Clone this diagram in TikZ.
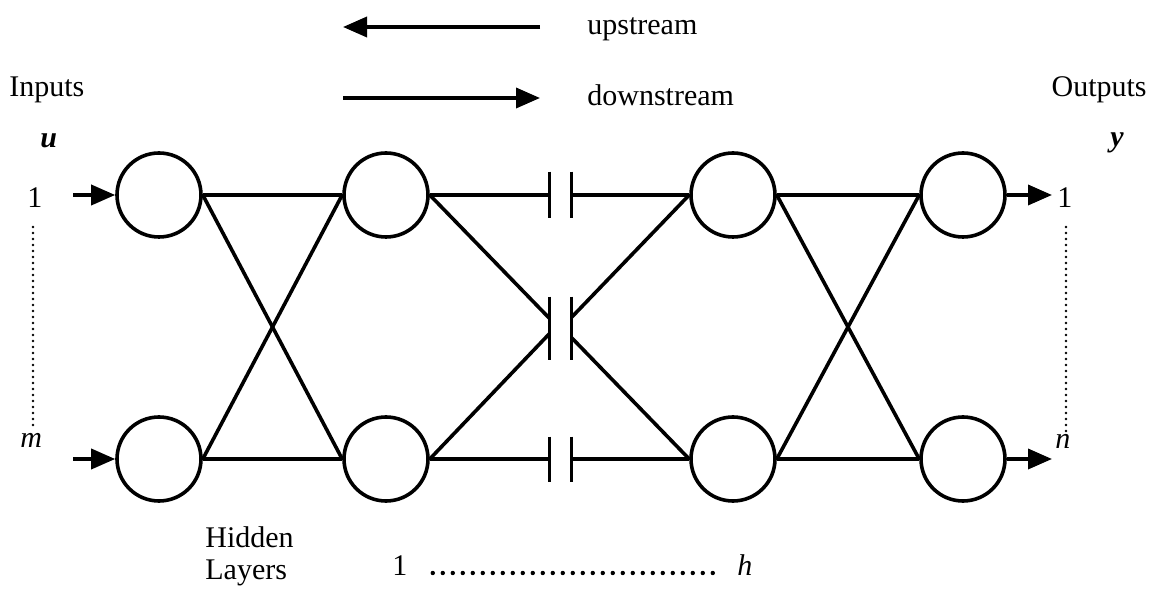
\documentclass[tikz,border=0pt]{standalone}
\usepackage{fontspec}
\setmainfont{Liberation Serif}
\usetikzlibrary{arrows.meta,positioning,calc}
\tikzset{
  neuron/.style={circle, draw, line width=1.8pt, minimum size=42pt, inner sep=0pt},
  link/.style={line width=1.8pt},
  flow/.style={-{Triangle[length=12pt, width=10pt]}, line width=1.8pt},
  capac/.style={inner sep=0pt, minimum width=10.5pt},
  lbl/.style={font=\fontsize{15}{18}\selectfont, inner sep=0pt},
  var/.style={lbl, font=\fontsize{15}{18}\selectfont\bfseries\itshape},
  idx/.style={lbl, font=\fontsize{15}{18}\selectfont\itshape},
  dotrule/.style={line width=1.4pt, dash pattern=on 0pt off 3pt, line cap=round},
  dotrow/.style={line width=2.2pt, dash pattern=on 0pt off 5pt, line cap=round},
}

\begin{document}
\begin{tikzpicture}[x=0.5pt, y=-0.5pt]
  \useasboundingbox (0,0) rectangle (1152,598);
  % direction legend
  \coordinate (upR) at (540,27);
  \coordinate (upL) at (343,27);
  \coordinate (dnL) at (343,98);
  \coordinate (dnR) at (540,98);
  \draw[flow] (upR) -- (upL);
  \draw[flow] (dnL) -- (dnR);
  \node[lbl, anchor=base west] (upTxt) at (587,35) {upstream};
  \node[lbl, anchor=base west] (dnTxt) at (587,106) {downstream};
  % side labels
  \node[lbl, anchor=base west] (inTxt) at (9,97) {Inputs};
  \node[lbl, anchor=base east] (outTxt) at (1147,97) {Outputs};
  \node[var, anchor=base west] (uVar) at (40,148) {u};
  \node[var, anchor=base west] (yVar) at (1110,147) {y};
  % neurons
  \node[neuron] (i1) at (159,195) {};
  \node[neuron] (i2) at (159,459) {};
  \node[neuron] (ha1) at (386,195) {};
  \node[neuron] (ha2) at (386,459) {};
  \node[neuron] (hb1) at (733,195) {};
  \node[neuron] (hb2) at (733,459) {};
  \node[neuron] (o1) at (963,195) {};
  \node[neuron] (o2) at (963,459) {};
  % capacitors
  \node[capac, minimum height=23pt] (capT) at (560.5,195) {};
  \node[capac, minimum height=31.5pt] (capM) at (560.5,328.5) {};
  \node[capac, minimum height=22.5pt] (capB) at (560.5,459.5) {};
  \foreach \c in {capT,capM,capB}
    \draw[link] (\c.north west) -- (\c.south west) (\c.north east) -- (\c.south east);
  % links
  \foreach \a in {i1,i2} \foreach \b in {ha1,ha2} \draw[link] (\a.east) -- (\b.west);
  \foreach \a in {hb1,hb2} \foreach \b in {o1,o2} \draw[link] (\a.east) -- (\b.west);
  \draw[link] (ha1.east) -- (ha1.east -| capT.west);
  \draw[link] (ha2.east) -- (ha2.east -| capB.west);
  \draw[link] (ha1.east) -- ($(capM.west)+(0,-10)$);
  \draw[link] (ha2.east) -- ($(capM.west)+(0,5)$);
  \draw[link] (hb1.west -| capT.east) -- (hb1.west);
  \draw[link] (hb2.west -| capB.east) -- (hb2.west);
  \draw[link] ($(capM.east)+(0,-11)$) -- (hb1.west);
  \draw[link] ($(capM.east)+(0,9)$) -- (hb2.west);
  % inputs and outputs
  \coordinate (in1) at (73,195);
  \coordinate (in2) at (73,459);
  \coordinate (out1) at (1052,195);
  \coordinate (out2) at (1052,459);
  \draw[flow] (in1) -- (i1.west);
  \draw[flow] (in2) -- (i2.west);
  \draw[flow] (o1.east) -- (out1);
  \draw[flow] (o2.east) -- (out2);
  \node[lbl, anchor=base west] (inOne) at (27,208) {1};
  \node[idx, anchor=base west] (inM) at (20,448) {m};
  \node[lbl, anchor=base west] (outOne) at (1057,208) {1};
  \node[idx, anchor=base west] (outN) at (1055,449) {n};
  \draw[dotrule] (33,227) -- (33,430);
  \draw[dotrule] (1066,227) -- (1066,432);
  % hidden layer range
  \node[lbl, anchor=base west] (hidA) at (205,548) {Hidden};
  \node[lbl, anchor=base west] (hidB) at (205,580) {Layers};
  \node[lbl, anchor=base west] (hOne) at (392,575) {1};
  \node[idx, anchor=base west] (hLast) at (737,575) {h};
  \draw[dotrow] ($(hOne.base east)+(25,-2)$) -- ($(hLast.base west)+(-22,-2)$);
\end{tikzpicture}
\end{document}
